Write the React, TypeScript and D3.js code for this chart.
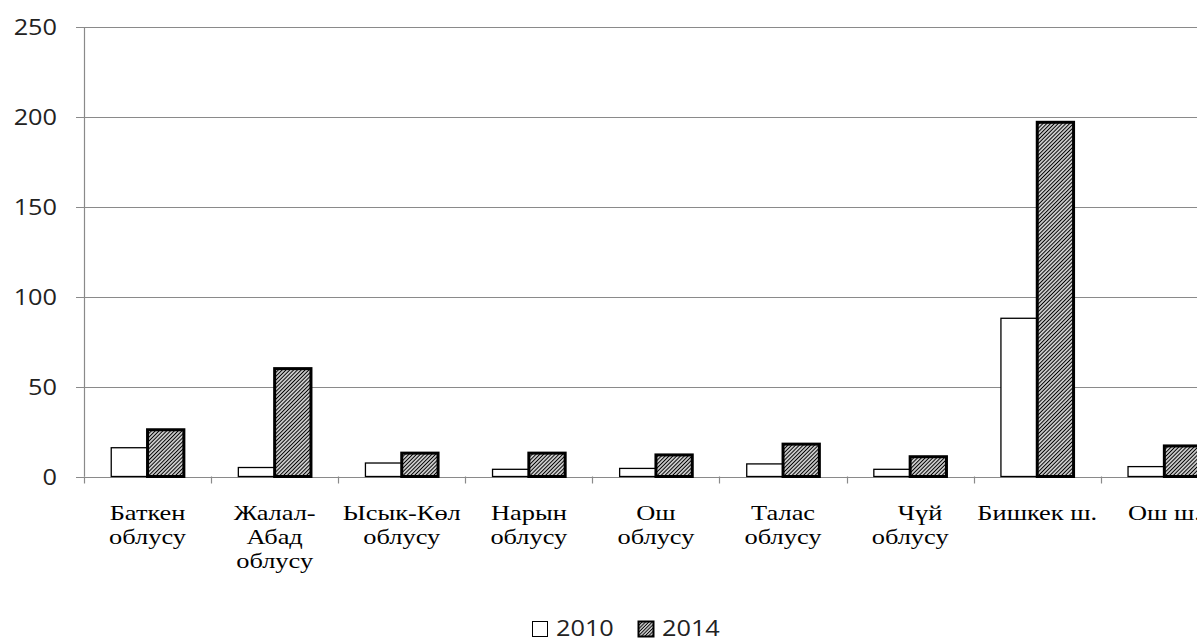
import { useEffect, useRef } from 'react';
import * as d3 from 'd3';

const categoryLabels: string[][] = [
  ['Баткен', 'облусу'],
  ['Жалал-', 'Абад', 'облусу'],
  ['Ысык-Көл', 'облусу'],
  ['Нарын', 'облусу'],
  ['Ош', 'облусу'],
  ['Талас', 'облусу'],
  ['\u00a0\u00a0\u00a0Чүй', 'облусу'],
  ['Бишкек ш.'],
  ['Ош ш.'],
];

const seriesNames = ['2010', '2014'];
const values2010 = [16, 5, 7.5, 4, 4.5, 7, 4, 88, 5.5];
const values2014 = [26, 60, 13, 13, 12, 18, 11, 197, 17];
const yTicks = [0, 50, 100, 150, 200, 250];

const WIDTH = 1197;
const HEIGHT = 640;

export default function App() {
  const svgRef = useRef<SVGSVGElement>(null);

  useEffect(() => {
    if (!svgRef.current) return;
    const svg = d3.select(svgRef.current);
    svg.selectAll('*').remove();

    const left = 84;
    const step = 127.1;
    const right = left + categoryLabels.length * step;
    const top = 27;
    const bottom = 476.5;

    const keys = categoryLabels.map((_, i) => String(i));

    const x = d3.scaleBand<string>().domain(keys).range([left, right]);
    const xs = d3
      .scaleBand<string>()
      .domain(seriesNames)
      .range([0, x.bandwidth()])
      .paddingOuter(0.75);
    const y = d3.scaleLinear().domain([0, 250]).range([bottom, top]);

    const defs = svg.append('defs');
    const addHatch = (id: string, size: number, sw: number) => {
      const p = defs
        .append('pattern')
        .attr('id', id)
        .attr('patternUnits', 'userSpaceOnUse')
        .attr('width', size)
        .attr('height', size)
        .attr('patternTransform', 'rotate(45)');
      p.append('rect').attr('width', size).attr('height', size).attr('fill', '#fff');
      p.append('line')
        .attr('x1', size / 2)
        .attr('x2', size / 2)
        .attr('y1', 0)
        .attr('y2', size)
        .attr('stroke', '#000')
        .attr('stroke-width', sw);
    };
    addHatch('hatch', 2.7, 1.3);
    addHatch('hatch-small', 2.4, 1.2);

    // grid
    svg
      .append('g')
      .selectAll('line')
      .data(yTicks)
      .join('line')
      .attr('x1', left - 8)
      .attr('x2', right)
      .attr('y1', (d) => Math.round(y(d)) + 0.5)
      .attr('y2', (d) => Math.round(y(d)) + 0.5)
      .attr('stroke', '#8a8a8a')
      .attr('stroke-width', 1.2);

    // y axis line
    svg
      .append('line')
      .attr('x1', left + 0.5)
      .attr('x2', left + 0.5)
      .attr('y1', top)
      .attr('y2', bottom)
      .attr('stroke', '#8a8a8a')
      .attr('stroke-width', 1.2);

    // x ticks at band boundaries
    const bounds = keys.map((k) => x(k) ?? 0).concat([right]);
    svg
      .append('g')
      .selectAll('line')
      .data(bounds)
      .join('line')
      .attr('x1', (d) => Math.round(d) + 0.5)
      .attr('x2', (d) => Math.round(d) + 0.5)
      .attr('y1', bottom)
      .attr('y2', bottom + 7)
      .attr('stroke', '#8a8a8a')
      .attr('stroke-width', 1.2);

    // y labels
    svg
      .append('g')
      .selectAll('text')
      .data(yTicks)
      .join('text')
      .attr('transform', (d) => `translate(57,${y(d) + 8}) scale(1.15,1)`)
      .attr('text-anchor', 'end')
      .attr('font-family', "'Open Sans', sans-serif")
      .attr('font-size', 22)
      .attr('fill', '#222')
      .text((d) => String(d));

    // bars
    const rows = keys.map((k, i) => ({ key: k, v: [values2010[i], values2014[i]] }));
    const groups = svg
      .append('g')
      .selectAll('g')
      .data(rows)
      .join('g')
      .attr('transform', (d) => `translate(${x(d.key)},0)`);

    groups
      .selectAll('rect')
      .data((d) => seriesNames.map((s, j) => ({ s, v: d.v[j] })))
      .join('rect')
      .attr('x', (d) => xs(d.s) ?? 0)
      .attr('width', xs.bandwidth())
      .attr('y', (d) => y(d.v))
      .attr('height', (d) => bottom - y(d.v))
      .attr('fill', (d) => (d.s === '2014' ? 'url(#hatch)' : '#fff'))
      .attr('stroke', '#000')
      .attr('stroke-width', (d) => (d.s === '2014' ? 3 : 1.3));

    // x labels
    const labels = svg
      .append('g')
      .selectAll('g')
      .data(rows)
      .join('g')
      .attr('transform', (d) => `translate(${(x(d.key) ?? 0) + x.bandwidth() / 2},0)`);

    labels
      .selectAll('text')
      .data((d) => categoryLabels[Number(d.key)].map((line, li) => ({ line, li })))
      .join('text')
      .attr('transform', (d) => `translate(0,${520 + d.li * 24}) scale(1.2,1)`)
      .attr('text-anchor', 'middle')
      .attr('font-family', "'Liberation Serif', 'Times New Roman', serif")
      .attr('font-size', 22)
      .attr('fill', '#000')
      .text((d) => d.line);

    // legend
    const legend = svg.append('g');
    const legendX = [532, 638];
    seriesNames.forEach((s, i) => {
      const g = legend.append('g').attr('transform', `translate(${legendX[i]},621)`);
      g.append('rect')
        .attr('x', 0.5)
        .attr('y', 0.5)
        .attr('width', 15)
        .attr('height', 15)
        .attr('fill', s === '2014' ? 'url(#hatch-small)' : '#fff')
        .attr('stroke', '#000')
        .attr('stroke-width', s === '2014' ? 2 : 1);
      g.append('text')
        .attr('transform', 'translate(24,15) scale(1.15,1)')
        .attr('font-family', "'Open Sans', sans-serif")
        .attr('font-size', 22)
        .attr('fill', '#222')
        .text(s);
    });
  }, []);

  return (
    <div style={{ position: 'absolute', left: 0, top: 0, width: WIDTH, height: HEIGHT, overflow: 'hidden', background: '#fff' }}>
      <svg ref={svgRef} width={WIDTH} height={HEIGHT} style={{ display: 'block' }} />
    </div>
  );
}
